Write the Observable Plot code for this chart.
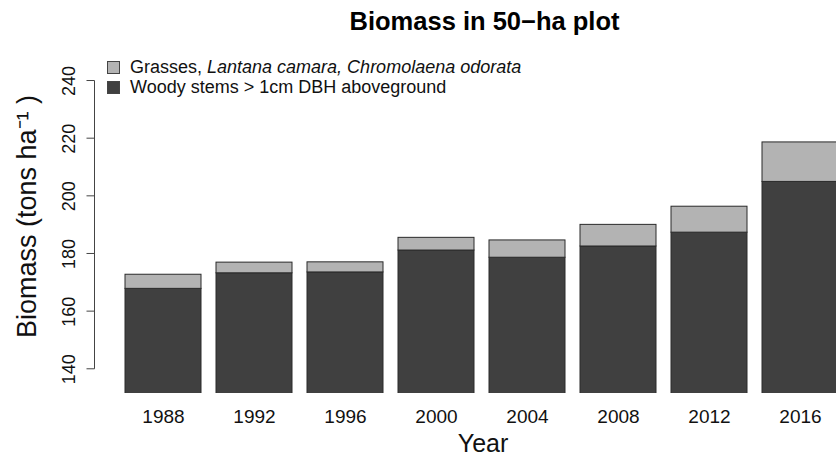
<!DOCTYPE html>
<html>
<head>
<meta charset="utf-8">
<script src="https://cdn.jsdelivr.net/npm/d3@7"></script>
<script src="https://cdn.jsdelivr.net/npm/@observablehq/plot@0.6"></script>
<style>
  html, body { margin: 0; padding: 0; background: #fff; }
  #wrap { position: relative; width: 836px; height: 459px; overflow: hidden; font-family: "Liberation Sans", Arial, Helvetica, sans-serif; }
  #legend { position: absolute; left: 107px; top: 57px; font-size: 18px; color: #111; line-height: 20px; }
  #legend .row { display: flex; align-items: center; white-space: nowrap; }
  #legend .sw { width: 13px; height: 13px; box-sizing: border-box; border: 1px solid #444; margin-right: 10px; }
</style>
</head>
<body>
<div id="wrap"><div id="legend"></div></div>
<script>
const years = ["1988", "1992", "1996", "2000", "2004", "2008", "2012", "2016"];
const woody = [167.9, 173.3, 173.6, 181.2, 178.7, 182.6, 187.4, 205.0];
const grass = [4.9, 3.7, 3.5, 4.4, 6.0, 7.5, 9.0, 13.7];
const parts = ["Woody", "Grass"];
const partColors = ["#404040", "#b3b3b3"];
const yTicks = [140, 160, 180, 200, 220, 240];
const title = "Biomass in 50\u2212ha plot";
const xTitle = "Year";
const yTitle = "Biomass (tons ha\u207B\u00B9 )";

const rows = [];
years.forEach((y, i) => {
  rows.push({year: y, part: "Woody", value: woody[i]});
  rows.push({year: y, part: "Grass", value: grass[i]});
});

const font = "Liberation Sans, Arial, Helvetica, sans-serif";

function yAxisLine(index, scales, values, dimensions) {
  const g = d3.create("svg:g").attr("fill", "none").attr("stroke", "#444").attr("stroke-width", 1);
  const x0 = dimensions.marginLeft + 0.5;
  g.append("line").attr("x1", x0).attr("x2", x0)
    .attr("y1", scales.y(d3.min(yTicks))).attr("y2", scales.y(d3.max(yTicks)));
  for (const t of yTicks) {
    g.append("line").attr("x1", x0 - 8).attr("x2", x0).attr("y1", scales.y(t)).attr("y2", scales.y(t));
  }
  return g.node();
}

const chart = Plot.plot({
  width: 836,
  height: 459,
  marginLeft: 94,
  marginRight: 0,
  marginTop: 69,
  marginBottom: 66,
  style: {fontFamily: font, background: "#fff", color: "#111"},
  x: {type: "band", domain: years, range: [107.6, 856.7], padding: 0.16, axis: null},
  y: {domain: [131.6, 244], axis: null},
  color: {domain: parts, range: partColors},
  marks: [
    Plot.barY(rows, {x: "year", y: "value", fill: "part", stroke: "#2a2a2a", strokeWidth: 1, clip: true}),
    yAxisLine,
    Plot.text(yTicks, {y: d => d, frameAnchor: "left", dx: -25, rotate: -90, textAnchor: "middle", lineAnchor: "middle", fontSize: 18, fill: "#111"}),
    Plot.text(years, {x: d => d, frameAnchor: "bottom", dy: 23, lineAnchor: "middle", fontSize: 19, fill: "#111"}),
    Plot.text([xTitle], {frameAnchor: "bottom", dx: 17.5, dy: 50, lineAnchor: "middle", fontSize: 25, fill: "#111"}),
    Plot.text([yTitle], {frameAnchor: "left", dx: -67, dy: -15, rotate: -90, textAnchor: "middle", lineAnchor: "middle", fontSize: 27, fill: "#111"}),
    Plot.text([title], {frameAnchor: "top", dx: 19, dy: -48, lineAnchor: "middle", fontSize: 25.5, fontWeight: "bold", fill: "#000"})
  ]
});

const wrap = document.getElementById("wrap");
wrap.insertBefore(chart, wrap.firstChild);

const legendItems = [
  {color: partColors[1], html: 'Grasses, <i>Lantana camara, Chromolaena odorata</i>'},
  {color: partColors[0], html: 'Woody stems &gt; 1cm DBH aboveground'}
];
const legend = document.getElementById("legend");
for (const it of legendItems) {
  const row = document.createElement("div");
  row.className = "row";
  const sw = document.createElement("span");
  sw.className = "sw";
  sw.style.background = it.color;
  const tx = document.createElement("span");
  tx.innerHTML = it.html;
  row.appendChild(sw);
  row.appendChild(tx);
  legend.appendChild(row);
}
</script>
</body>
</html>
